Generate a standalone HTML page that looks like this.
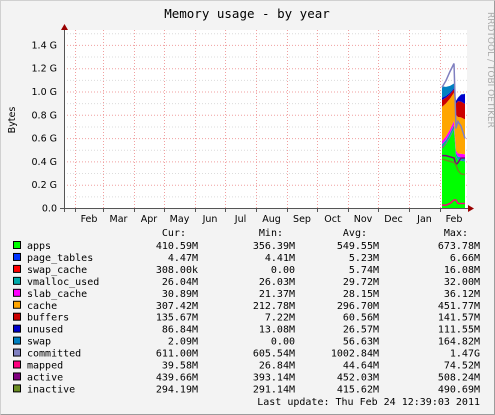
<!DOCTYPE html>
<html><head><meta charset="utf-8"><style>
html,body{margin:0;padding:0;background:#f3f3f3}
svg{display:block}
text{font-family:"DejaVu Sans Mono","Liberation Mono",monospace;font-size:10px;fill:#000}
.sans{font-family:"DejaVu Sans","Liberation Sans",sans-serif;font-size:9.5px}
</style></head><body>
<svg id="chart" width="495" height="415" viewBox="0 0 495 415">
<rect x="0" y="0" width="495" height="415" fill="#f3f3f3"/>
<path d="M0.5 414.5V0.5H494.5" fill="none" stroke="#d0d0d0"/>
<path d="M494.5 0.5V414.5H0.5" fill="none" stroke="#9c9c9c"/>
<rect x="64" y="30" width="403" height="178" fill="#ffffff"/>
<text x="247" y="18" text-anchor="middle" style="font-size:12.5px">Memory usage - by year</text>
<text x="0" y="0" transform="translate(488,12) rotate(90)" style="font-size:9px;fill:#aaa" class="sans">RRDTOOL / TOBI OETIKER</text>
<text x="0" y="0" transform="translate(15,120) rotate(-90)" text-anchor="middle" class="sans">Bytes</text>
<g id="grid"></g>
<g id="areas"></g>
<g id="lines"></g>
<g id="axes"></g>
<g id="legend"></g>
<text x="480" y="405" text-anchor="end">Last update:  Thu Feb 24 12:39:03 2011</text>
</svg>
<script>
// days since Feb 1 2010
const days = [367, 371, 375, 379, 381, 383, 386, 390];
// values in MB
const apps = [520, 560, 620, 690, 450, 420, 415, 410];
const pageTables = [5, 5, 5, 6, 5, 5, 5, 4.5];
const swapCache = [8, 6, 4, 2, 1, 0.5, 0.3, 0.3];
const vmallocUsed = [26, 27, 28, 30, 26, 26, 26, 26];
const slabCache = [30, 32, 34, 36, 25, 28, 30, 31];
const cacheMem = [300, 290, 270, 250, 310, 320, 320, 307];
const buffers = [60, 50, 40, 30, 100, 140, 140, 136];
const unused = [20, 15, 12, 10, 25, 30, 60, 87];
const swap = [100, 80, 60, 40, 2, 2, 2, 2];
const committed = [1060, 1120, 1200, 1270, 700, 760, 720, 611];
const mapped = [25, 25, 40, 70, 70, 40, 40, 40];
const active = [460, 460, 450, 440, 380, 400, 440, 440];
const inactive = [430, 420, 410, 400, 380, 330, 300, 294];
const yTicks = [0, 0.2, 0.4, 0.6, 0.8, 1.0, 1.2, 1.4];
const yTickLabels = ["0.0", "0.2 G", "0.4 G", "0.6 G", "0.8 G", "1.0 G", "1.2 G", "1.4 G"];
const monthDays = [0, 28, 59, 89, 120, 150, 181, 212, 242, 273, 303, 334, 365];
const monthLabels = ["Feb","Mar","Apr","May","Jun","Jul","Aug","Sep","Oct","Nov","Dec","Jan","Feb"];
const legNames = ["apps","page_tables","swap_cache","vmalloc_used","slab_cache","cache","buffers","unused","swap","committed","mapped","active","inactive"];
const legColors = ["#00ff00","#0033ff","#ff0000","#00aaaa","#ff00ff","#ffa500","#cc0000","#0000cc","#0080c0","#8080c0","#ff0080","#800080","#6b8e23"];
const legCur = ["410.59M","4.47M","308.00k","26.04M","30.89M","307.42M","135.67M","86.84M","2.09M","611.00M","39.58M","439.66M","294.19M"];
const legMin = ["356.39M","4.41M","0.00","26.03M","21.37M","212.78M","7.22M","13.08M","0.00","605.54M","26.84M","393.14M","291.14M"];
const legAvg = ["549.55M","5.23M","5.74M","29.72M","28.15M","296.70M","60.56M","26.57M","56.63M","1002.84M","44.64M","452.03M","415.62M"];
const legMax = ["673.78M","6.66M","16.08M","32.00M","36.12M","451.77M","141.57M","111.55M","164.82M","1.47G","74.52M","508.24M","490.69M"];

const NS = "http://www.w3.org/2000/svg";
const X = d => 75 + d * 1.0;
const Y = g => 208 - g * 116.5;
const YM = mb => Y(mb / 1024);
function mk(tag, attrs, parent) {
  const e = document.createElementNS(NS, tag);
  for (const k in attrs) e.setAttribute(k, attrs[k]);
  document.getElementById(parent).appendChild(e);
  return e;
}
// grid
for (let g = 0.1; g < 1.55; g += 0.1) {
  const major = Math.abs(g * 5 - Math.round(g * 5)) < 1e-6;
  const l = mk("line", {x1: 64, x2: 467, y1: Y(g) + 0.5, y2: Y(g) + 0.5, stroke: major ? "#f0a0a0" : "#dcdcdc", "stroke-dasharray": "1,2"}, "grid");
  
  
}
monthDays.forEach(d => {
  const l = mk("line", {x1: X(d) + 0.5, x2: X(d) + 0.5, y1: 30, y2: 208, stroke: "#f0a0a0", "stroke-dasharray": "1,2"}, "grid");
  
  
});
// stacked areas
const stack = [apps, pageTables, swapCache, vmallocUsed, slabCache, cacheMem, buffers, unused, swap];
let base = days.map(() => 0);
stack.forEach((s, si) => {
  const top = base.map((b, i) => b + s[i]);
  let d = "M" + days.map((t, i) => X(t) + "," + YM(top[i])).join("L");
  for (let i = days.length - 1; i >= 0; i--) d += "L" + X(days[i]) + "," + YM(base[i]);
  d += "Z";
  const p = mk("path", {d: d, fill: legColors[si]}, "areas");
  
  
  base = top;
});
// lines
[[committed, 9], [mapped, 10], [active, 11], [inactive, 12]].forEach(([s, ci]) => {
  const p = mk("polyline", {points: days.map((t, i) => X(t) + "," + YM(s[i])).join(" "), fill: "none", stroke: legColors[ci], "stroke-width": 1.5}, "lines");
  
  
});
// axes
let a = mk("line", {x1: 64.5, x2: 64.5, y1: 212, y2: 29, stroke: "#555"}, "axes");


a = mk("line", {x1: 60, x2: 468, y1: 208.5, y2: 208.5, stroke: "#555"}, "axes");


a = mk("path", {d: "M61,30L68,30L64.5,24Z", fill: "#900"}, "axes");


a = mk("path", {d: "M468,205L468,212L474,208.5Z", fill: "#900"}, "axes");


yTicks.forEach((g, i) => {
  const t = mk("text", {x: 57, y: Y(g) + 3.5, "text-anchor": "end", class: "sans"}, "axes");
  t.textContent = yTickLabels[i];
  
  
});
monthLabels.forEach((m, i) => {
  const d0 = monthDays[i], d1 = i < monthDays.length - 1 ? monthDays[i + 1] : 393;
  const t = mk("text", {x: (X(d0) + X(d1)) / 2, y: 222, "text-anchor": "middle", class: "sans"}, "axes");
  t.textContent = m;
  
  
  const tk = mk("line", {x1: X(d0) + 0.5, x2: X(d0) + 0.5, y1: 208, y2: 212, stroke: "#555"}, "axes");
  
  
});
// legend
[["Cur:", 198], ["Min:", 295], ["Avg:", 379], ["Max:", 480]].forEach(([h, x]) => {
  const t = mk("text", {x: x - 12, y: 236, "text-anchor": "end"}, "legend");
  t.textContent = h;
  
  
});
legNames.forEach((n, i) => {
  const y = 249 + i * 11.95;
  const r = mk("rect", {x: 13.5, y: y - 7.5, width: 7, height: 7, fill: legColors[i], stroke: "#000"}, "legend");
  
  
  const t = mk("text", {x: 27, y: y}, "legend");
  t.textContent = n;
  
  
  [[legCur, 198], [legMin, 295], [legAvg, 379], [legMax, 480]].forEach(([arr, x]) => {
    const v = mk("text", {x: x, y: y, "text-anchor": "end"}, "legend");
    v.textContent = arr[i];
    
    
  });
});
</script>
</body></html>
